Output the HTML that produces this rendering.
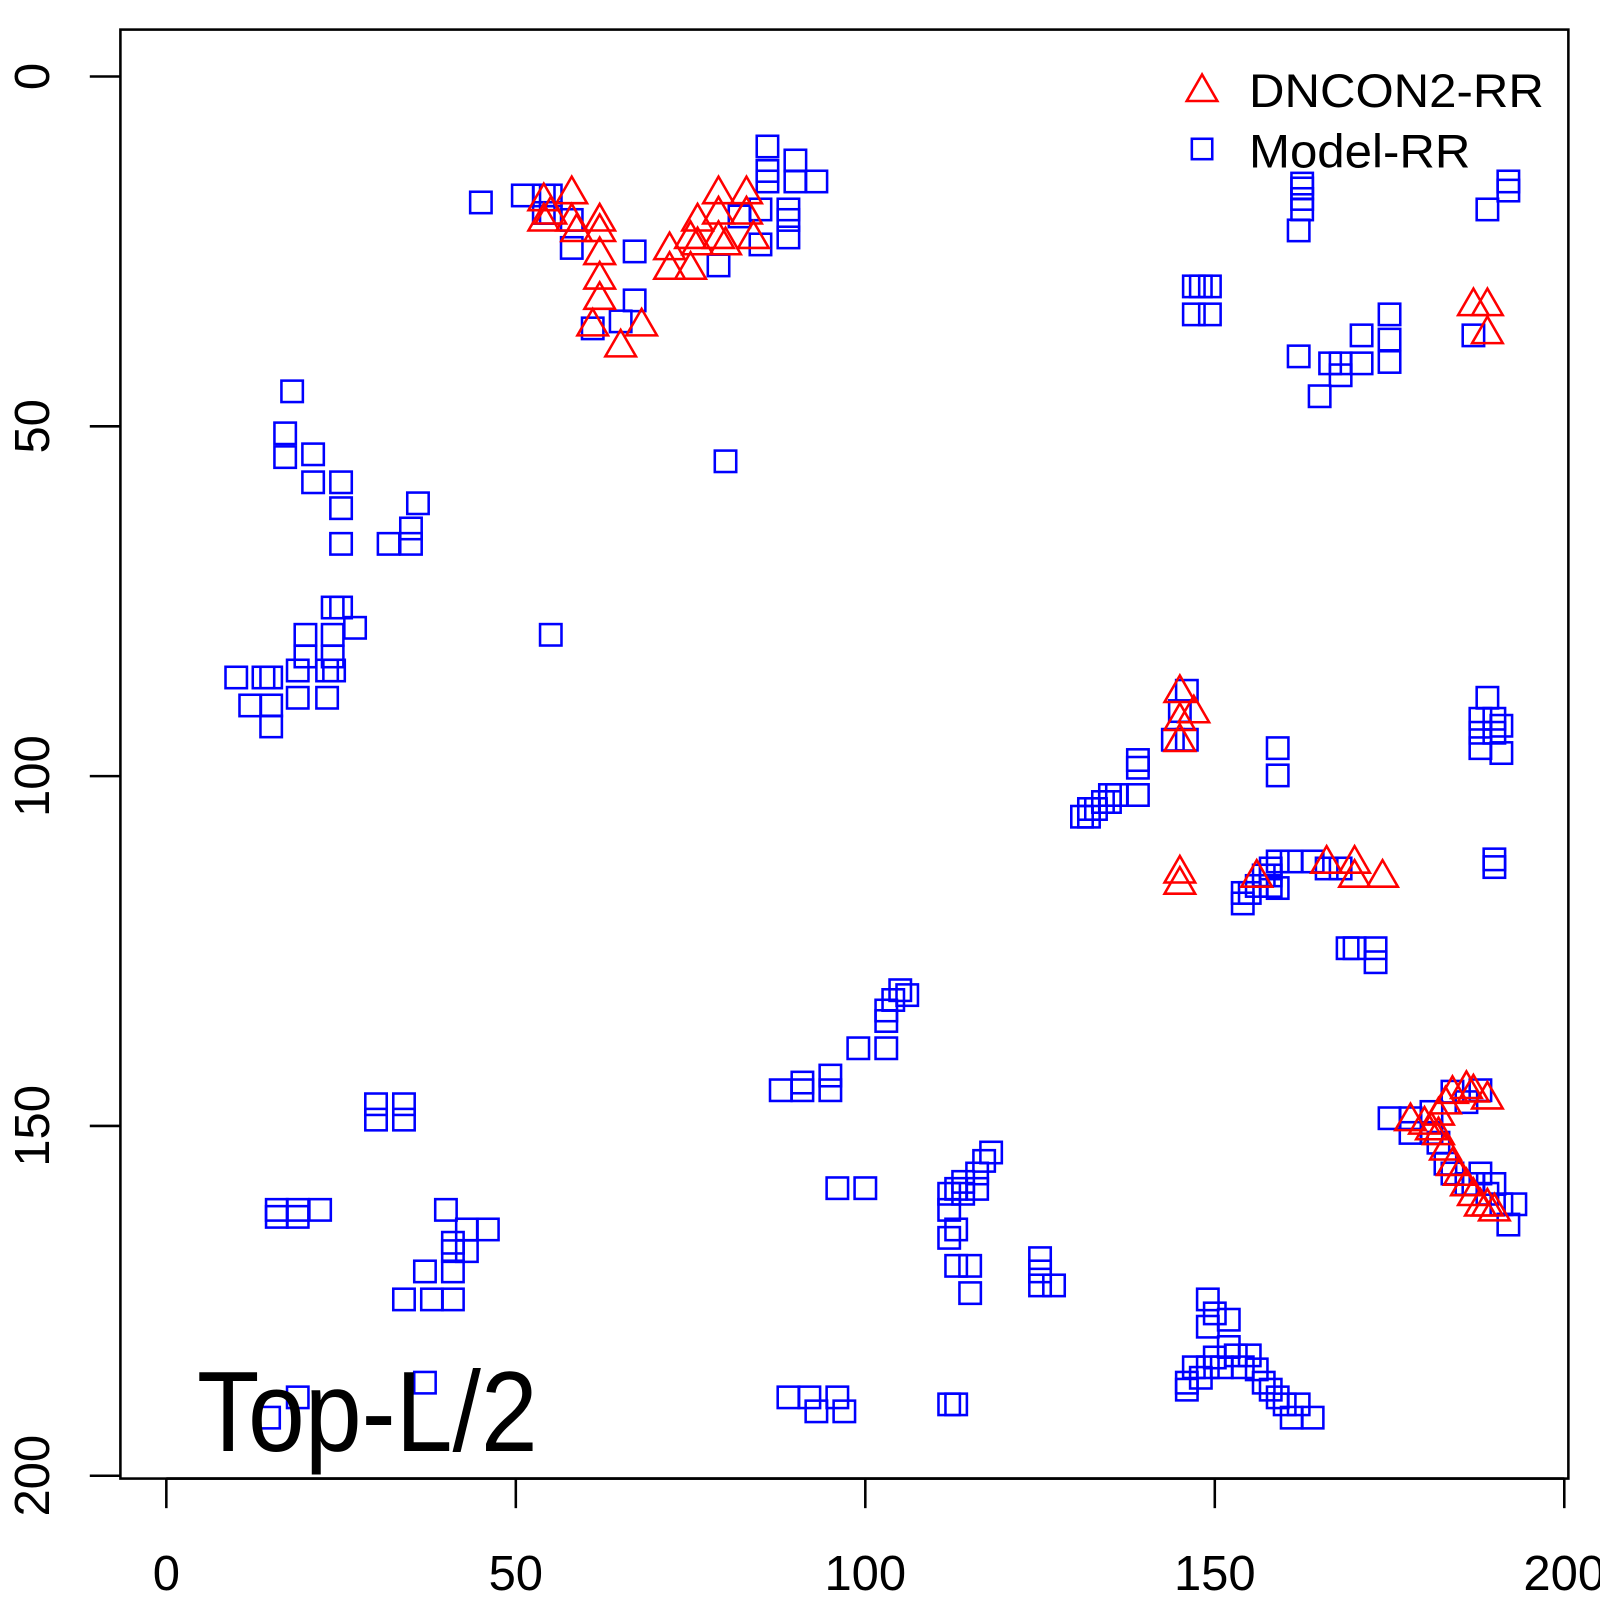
<!DOCTYPE html>
<html><head><meta charset="utf-8"><style>
html,body{margin:0;padding:0;background:#fff;}
svg{display:block;font-family:"Liberation Sans",Arial,sans-serif;}
</style></head><body>
<svg id="chart" width="1600" height="1600" viewBox="0 0 1568 1568">
<rect x="0" y="0" width="1568" height="1568" fill="#fff"/>
<rect x="118" y="29" width="1419" height="1420" fill="none" stroke="#000" stroke-width="2.5"/>
<g id="xaxis"></g>
<g id="yaxis"></g>
<g id="marks"></g>
<g>
<polygon points="1178,73 1163,99 1193,99" fill="none" stroke="#f00" stroke-width="2.5"/>
<text x="1224" y="105" font-size="46" textLength="289" lengthAdjust="spacingAndGlyphs">DNCON2-RR</text>
<rect x="1168" y="136" width="20" height="20" fill="none" stroke="#00f" stroke-width="2.5"/>
<text x="1224" y="164" font-size="46" textLength="217" lengthAdjust="spacingAndGlyphs">Model-RR</text>
</g>
<text x="193" y="1422" font-size="112" textLength="334" lengthAdjust="spacingAndGlyphs">Top-L/2</text>
</svg>
<script>
const xTicks=[0,50,100,150,200];
const yTicks=[0,50,100,150,200];
const triX=[54,58,54,58,62,62,62,62,62,61,65,68,72,72,75,76,76,79,79,79,80,83,83,84,55,58.7,75,
187,189,189,145,145,147,145,145,145,156,166,170,170,174,
178,182,183,184,186,187,189,182,183,184,185,186,187,188,190,189,180,181];
const triY=[17.5,16.5,20.4,20.4,20.4,21.9,25.2,28.7,31.6,35.4,38.4,35.4,24.5,27.3,27.3,20.4,23.8,16.5,19.4,22.9,23.8,16.5,19.4,22.9,19.4,21.9,22.9,
32.5,32.5,36.5,87.8,91.8,90.7,94.8,113.6,115.2,114.2,112.2,112.2,114.2,114.2,
149,148.2,146.6,145.1,144.4,144.9,145.9,151,153.2,155.4,156.8,158.3,159.7,161.2,161.9,161.2,149.5,150.3];
const sqX=[45,51,54,55,54,55,58,58,61,65,67,67,79,80,82,85,85,86,86,86,90,90,93,89,89,89,
162.5,162.5,162.5,162,162.5,147,149.3,147,149.3,148,189,192,192,187,175,175,175,171,171,162,165,166.5,168,168,
18,17,17,21,21,25,25,25,36,35,35,31.8,23.8,25,27,23.8,19.9,19.9,23.8,18.8,23,24,23,18.8,10,13.9,15,12,15,15,55,
30,34,30,34,15.8,18.8,22,15.8,18.8,40,43,46,41,41,43,41,37,34,38,41,37,18.8,14.7,
87.9,91,91,95,95,96,100,99,103,103,103,104,105,106,
112,112,113,112,113,115,115,113,114,116,117,118,116,114,125,125,127,125,89,92,93,96,97,112,113,
149,149,150,152,152,149,147,146,146,150,153,155,156,157,158,159,160,161,164,162,148,151,154,
146,145,144,146,139,139,139,135,135,134,132,132,131,133,136,159,159,
154,154,155,156,158,158,158,159,161,164,166,168,159,157,169,173,173,170,
189,188,188,188,190,190,191,191,190,190,
175,178,178,181,181,182,184,186,188,183,184,186,187,189,191,193,192,188,190];
const sqY=[18,17,17,17,19.5,19.5,20.5,24.5,36,35,25,32,27,55,20,19,24,10,13.5,15,12,15,15,19,20.5,23,
16,17.5,19,22,15.3,30,30,34,34,30,19,15,16.3,37,34,37.6,40.8,37,41,40,45.7,41,42.7,41,
45,51,54.4,54,58,58,61.7,66.8,61,64.6,66.8,66.8,75.9,75.9,78.8,79.8,79.8,82.9,82.9,84.9,84.9,84.9,88.8,88.8,85.9,85.9,85.9,89.9,89.9,92.9,79.8,
146.9,146.9,149.1,149.1,162,162,162,163,163,162,164.8,164.8,166.7,167.9,167.9,170.8,170.8,174.8,174.8,174.8,186.7,188.8,191.7,
144.9,143.8,144.9,142.8,144.9,158.9,158.9,138.9,138.9,135,133.5,132,130.6,131.3,
159.7,162,164.8,166,170,170,173.9,159,158,156.8,155,153.8,159,159.7,168.9,172.8,172.8,170.8,188.8,188.8,190.8,188.8,190.8,189.8,189.8,
174.8,178.7,176.8,177.7,181.6,184.5,184.5,186.7,187.7,183.1,182.8,182.8,184.8,186.7,187.7,188.8,189.8,191.7,191.7,189.8,186,184.5,184.5,
87.8,90.7,94.8,94.8,98.8,102.7,97.7,102.7,103.7,103.7,104.7,105.8,105.8,104.7,102.7,96,99.9,
116.7,118.2,116.7,115.7,114.2,115.7,113.2,112.2,112.2,112.2,113.2,113.2,116,114.2,124.6,124.6,126.6,124.6,
88.8,91.8,93.8,96,91.8,93.8,92.8,96.7,111.9,113,
148.9,151,148.9,148,151,152.4,145.1,146.6,144.9,155.4,156.8,158.3,158.3,159.7,161.2,161.2,164.1,156.8,158.3];
const NS="http://www.w3.org/2000/svg";
function sx(v){return 163+v*6.85;}
function sy(v){return 75+v*6.856;}
const xa=document.getElementById('xaxis'),ya=document.getElementById('yaxis'),mk=document.getElementById('marks');
function mkEl(t,a){const e=document.createElementNS(NS,t);for(const k in a)e.setAttribute(k,a[k]);return e;}
xTicks.forEach(v=>{
 const l=mkEl('line',{x1:sx(v),x2:sx(v),y1:1449,y2:1478,stroke:'#000','stroke-width':2.5});
 
 
 xa.appendChild(l);
 const t=mkEl('text',{x:sx(v),y:1558,'font-size':48,'text-anchor':'middle'});
 t.textContent=v;
 
 
 xa.appendChild(t);
});
xa.appendChild(mkEl('line',{x1:sx(0),x2:sx(200),y1:1449,y2:1449,stroke:'#000','stroke-width':2.5}));
yTicks.forEach(v=>{
 const l=mkEl('line',{x1:88,x2:118,y1:sy(v),y2:sy(v),stroke:'#000','stroke-width':2.5});
 
 
 ya.appendChild(l);
 const t=mkEl('text',{x:0,y:0,'font-size':48,'text-anchor':'middle',transform:`translate(48,${sy(v)}) rotate(-90)`});
 t.textContent=v;
 
 
 ya.appendChild(t);
});
sqX.forEach((v,i)=>{
 const r=mkEl('rect',{x:sx(v)-10.5,y:sy(sqY[i])-10.5,width:21,height:21,fill:'none',stroke:'#00f','stroke-width':2.5});
 
 
 mk.appendChild(r);
});
triX.forEach((v,i)=>{
 const cx=sx(v),cy=sy(triY[i]);
 const p=mkEl('polygon',{points:`${cx},${cy-15} ${cx-15},${cy+11} ${cx+15},${cy+11}`,fill:'none',stroke:'#f00','stroke-width':2.5});
 
 
 mk.appendChild(p);
});
</script>
</body></html>
